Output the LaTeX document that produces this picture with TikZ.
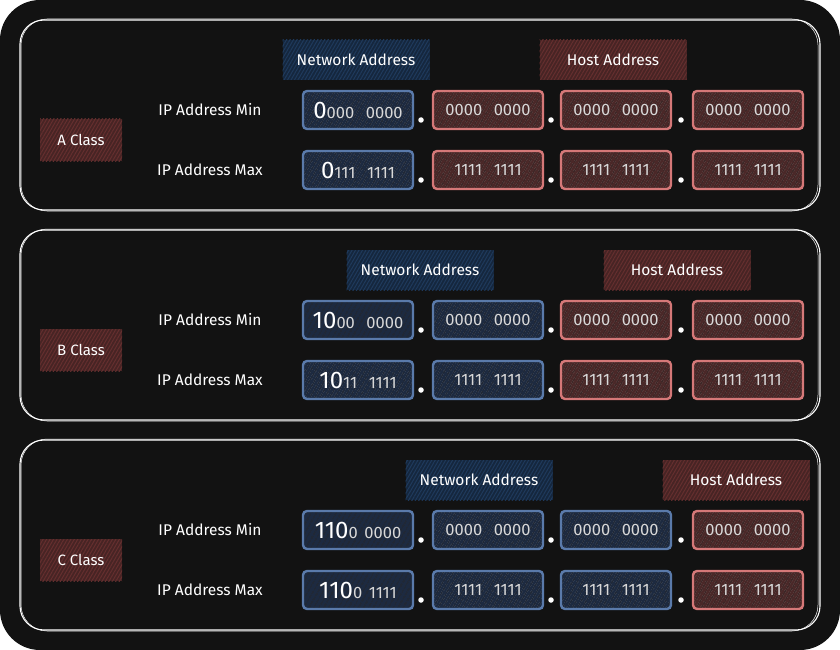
\documentclass[tikz,border=0pt]{standalone}
\usepackage{fontspec}
\setmainfont{Fira Sans}
\usetikzlibrary{patterns.meta}
\definecolor{bg}{HTML}{121212}
\definecolor{netstroke}{HTML}{5A7AAA}
\definecolor{netfill}{HTML}{1D2A40}
\definecolor{netlbl}{HTML}{15273E}
\definecolor{netline}{HTML}{1F3A5C}
\definecolor{hoststroke}{HTML}{D57878}
\definecolor{hostfill}{HTML}{4A2828}
\definecolor{hostlbl}{HTML}{472424}
\definecolor{hostline}{HTML}{652F2F}
\definecolor{txt}{HTML}{D8D8D8}
\tikzset{
  panel/.style={draw=white, line width=1.1pt, rounded corners=24pt},
  panelb/.style={draw=white!70, line width=0.5pt, rounded corners=26pt},
  hatchdark/.style={pattern={Lines[angle=60,distance=4pt,line width=0.7pt]}, pattern color=black!85},
  lblbox/.style={minimum width=147pt, minimum height=40pt, text=white, font=\fontsize{15.5}{17}\selectfont, inner sep=0pt},
  netlabel/.style={lblbox, preaction={fill=netlbl}, pattern={Lines[angle=60,distance=3pt,line width=1pt]}, pattern color=netline},
  hostlabel/.style={lblbox, preaction={fill=hostlbl}, pattern={Lines[angle=60,distance=3pt,line width=1pt]}, pattern color=hostline},
  classlabel/.style={minimum width=82pt, minimum height=42pt, text=white, inner sep=0pt, font=\fontsize{15}{17}\selectfont, preaction={fill=hostlbl}, pattern={Lines[angle=60,distance=3pt,line width=1pt]}, pattern color=hostline},
  byte/.style={minimum width=110pt, minimum height=38pt, rounded corners=4pt, line width=2.4pt, inner sep=0pt, text=txt, font=\fontsize{16.5}{18}\selectfont, hatchdark},
  netbyte/.style={byte, draw=netstroke, preaction={fill=netfill}},
  hostbyte/.style={byte, draw=hoststroke, preaction={fill=hostfill}},
  rowlabel/.style={text=white, font=\fontsize{15.5}{17}\selectfont, inner sep=0pt},
  sep/.style={circle, fill=white, inner sep=0pt, minimum size=5.5pt},
}
\newcommand{\bigdig}[1]{{\fontsize{24}{24}\selectfont\color{white}#1}}
\begin{document}
\begin{tikzpicture}[x=1pt,y=-1pt]
\useasboundingbox (0,0) rectangle (840,650);
\fill[bg, rounded corners=40pt] (0,0) rectangle (840,650);
% panels
\foreach \p/\off/\cl/\nx/\hx/\nn in {A/0/A/356/613/1, B/210/B/420/677/2, C/420/C/479/736/3}{
  \draw[panel] (20,20+\off) rectangle (820,210+\off);
  \draw[panelb] (21,19+\off) rectangle (818,211+\off);
  \node[netlabel] (net\p) at (\nx,60+\off) {Network Address};
  \node[hostlabel] (host\p) at (\hx,60+\off) {Host Address};
  \node[classlabel] (cls\p) at (81,140+\off) {\cl\ Class};
  \node[rowlabel] (min\p) at (210,110+\off) {IP Address Min};
  \node[rowlabel] (max\p) at (210,170+\off) {IP Address Max};
  \foreach \c/\cx in {1/358,2/488,3/616,4/748}{
    \ifnum\c>\nn
      \node[hostbyte] (bmin\p\c) at (\cx,110+\off) {0000\hspace{0.7em}0000};
      \node[hostbyte] (bmax\p\c) at (\cx,170+\off) {1111\hspace{0.7em}1111};
    \else
      \ifnum\c=1
        \ifnum\nn=1
          \node[netbyte] (bmin\p\c) at (\cx,110+\off) {\bigdig{0}000\hspace{0.7em}0000};
          \node[netbyte] (bmax\p\c) at (\cx,170+\off) {\bigdig{0}111\hspace{0.7em}1111};
        \fi
        \ifnum\nn=2
          \node[netbyte] (bmin\p\c) at (\cx,110+\off) {\bigdig{10}00\hspace{0.7em}0000};
          \node[netbyte] (bmax\p\c) at (\cx,170+\off) {\bigdig{10}11\hspace{0.7em}1111};
        \fi
        \ifnum\nn=3
          \node[netbyte] (bmin\p\c) at (\cx,110+\off) {\bigdig{110}0\hspace{0.4em}0000};
          \node[netbyte] (bmax\p\c) at (\cx,170+\off) {\bigdig{110}0\hspace{0.4em}1111};
        \fi
      \else
        \node[netbyte] (bmin\p\c) at (\cx,110+\off) {0000\hspace{0.7em}0000};
        \node[netbyte] (bmax\p\c) at (\cx,170+\off) {1111\hspace{0.7em}1111};
      \fi
    \fi
  }
  \foreach \c/\dx in {1/421,2/551,3/681}{
    \node[sep] (dmin\p\c) at (\dx,120+\off) {};
    \node[sep] (dmax\p\c) at (\dx,180+\off) {};
  }
}
\end{tikzpicture}
\end{document}
